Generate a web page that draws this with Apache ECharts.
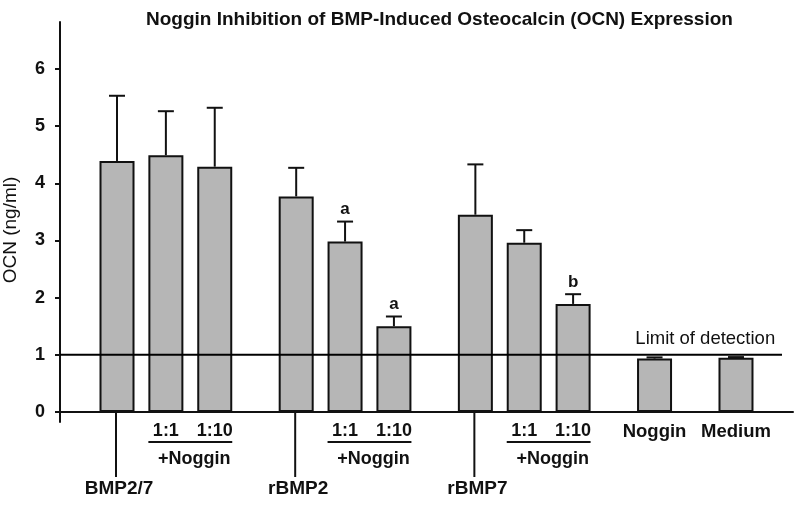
<!DOCTYPE html>
<html>
<head>
<meta charset="utf-8">
<script src="https://cdn.jsdelivr.net/npm/echarts@6/dist/echarts.min.js"></script>
<style>
html,body{margin:0;padding:0;background:#fff;}
#chart{width:800px;height:507px;}
</style>
</head>
<body>
<div id="chart"></div>
<script>
// ---- data ----
const titleText = 'Noggin Inhibition of BMP-Induced Osteocalcin (OCN) Expression';
const yAxisName = 'OCN (ng/ml)';
const categories = ['BMP2/7', 'BMP2/7 +Noggin 1:1', 'BMP2/7 +Noggin 1:10',
  'rBMP2', 'rBMP2 +Noggin 1:1', 'rBMP2 +Noggin 1:10',
  'rBMP7', 'rBMP7 +Noggin 1:1', 'rBMP7 +Noggin 1:10',
  'Noggin', 'Medium'];
const ocnMean = [4.39, 4.49, 4.29, 3.77, 2.98, 1.50, 3.45, 2.96, 1.89, 0.935, 0.95];
const ocnError = [1.14, 0.77, 1.03, 0.50, 0.35, 0.17, 0.88, 0.22, 0.17, 0.02, 0.01];
const sigLetters = ['', '', '', '', 'a', 'a', '', '', 'b', '', ''];
const yTickValues = [0, 1, 2, 3, 4, 5, 6];
const groupLabels = ['BMP2/7', 'rBMP2', 'rBMP7'];
const ratioLabels = ['1:1', '1:10'];
const nogginLabel = '+Noggin';
const controlLabels = ['Noggin', 'Medium'];
const detectionLimit = 1;
const detectionLabel = 'Limit of detection';

// ---- layout ----
const SLOT_COUNT = 45;
const barSlots = [3, 6, 9, 14, 17, 20, 25, 28, 31, 36, 41];
const BAR_W = 35;
const FONT = '"Liberation Sans", Arial, sans-serif';

const slotNames = [];
for (let i = 0; i < SLOT_COUNT; i++) slotNames.push('s' + i);
const barData = slotNames.map(() => '-');
barSlots.forEach((s, i) => { barData[s] = { value: ocnMean[i], name: categories[i] }; });
const errData = barSlots.map((s, i) => [s, ocnMean[i], ocnError[i], i]);

const chart = echarts.init(document.getElementById('chart'), null, { renderer: 'canvas' });

const option = {
  animation: false,
  backgroundColor: '#fff',
  title: {
    text: titleText,
    left: 141, top: 5,
    textStyle: { fontFamily: FONT, fontSize: 19, fontWeight: 'bold', color: '#111' }
  },
  grid: { left: 60, right: 7, top: 22, bottom: 85, containLabel: false, outerBoundsMode: 'none' },
  xAxis: {
    type: 'category',
    data: slotNames,
    boundaryGap: true,
    axisLine: { show: true, onZero: true, lineStyle: { color: '#111', width: 2 } },
    axisTick: { show: false },
    axisLabel: { show: false },
    splitLine: { show: false }
  },
  yAxis: {
    type: 'value',
    min: -0.175, max: 6.82,
    name: yAxisName,
    nameLocation: 'middle',
    nameGap: 40,
    nameTextStyle: { fontFamily: FONT, fontSize: 19, color: '#111', padding: [0, 16, 0, 0] },
    axisLine: { show: true, lineStyle: { color: '#111', width: 2 } },
    axisTick: { show: true, length: 5, lineStyle: { color: '#111', width: 2 }, customValues: yTickValues },
    axisLabel: { show: true, customValues: yTickValues, margin: 15,
      fontFamily: FONT, fontSize: 18, fontWeight: 'bold', color: '#111' },
    splitLine: { show: false }
  },
  series: [
    {
      type: 'bar',
      data: barData,
      barWidth: BAR_W,
      itemStyle: { color: '#b6b6b6', borderColor: '#111', borderWidth: 2 },
      z: 2
    },
    {
      type: 'custom',
      data: errData,
      z: 3,
      renderItem: function (params, api) {
        const slot = api.value(0), m = api.value(1), e = api.value(2), idx = api.value(3);
        const p0 = api.coord([slot, m]);
        const p1 = api.coord([slot, m + e]);
        const children = [
          { type: 'line', shape: { x1: p0[0], y1: p0[1], x2: p1[0], y2: p1[1] },
            style: { stroke: '#111', lineWidth: 2 } },
          { type: 'line', shape: { x1: p1[0] - 8, y1: p1[1], x2: p1[0] + 8, y2: p1[1] },
            style: { stroke: '#111', lineWidth: 2 } }
        ];
        const letter = sigLetters[idx];
        if (letter) {
          children.push({ type: 'text', x: p1[0], y: p1[1] - 12,
            style: { text: letter, fill: '#111', font: 'bold 17px ' + FONT, align: 'center', verticalAlign: 'middle' } });
        }
        return { type: 'group', children: children };
      }
    }
  ]
};
chart.setOption(option);

// annotations under the axis and the detection-limit line
function px(i) { return chart.convertToPixel({ gridIndex: 0 }, [barSlots[i], 0]); }
const zeroY = px(0)[1];
const limY = chart.convertToPixel({ gridIndex: 0 }, [0, detectionLimit])[1];
const slotW = (px(1)[0] - px(0)[0]) / (barSlots[1] - barSlots[0]);
const axisX = px(0)[0] - slotW * (barSlots[0] + 0.5);
const g = [];
const boldFont = 'bold 18px ' + FONT;
groupLabels.forEach((lab, k) => {
  const b0 = px(k * 3), b1 = px(k * 3 + 1), b2 = px(k * 3 + 2);
  g.push({ type: 'line', shape: { x1: b0[0] - 1, y1: zeroY, x2: b0[0] - 1, y2: zeroY + 65 }, style: { stroke: '#111', lineWidth: 2 } });
  g.push({ type: 'text', x: b0[0] + 2, y: zeroY + 77, style: { text: lab, font: 'bold 19px ' + FONT, fill: '#111', align: 'center', verticalAlign: 'middle' } });
  ratioLabels.forEach((r, j) => {
    const b = j === 0 ? b1 : b2;
    g.push({ type: 'text', x: b[0], y: zeroY + 19, style: { text: r, font: boldFont, fill: '#111', align: 'center', verticalAlign: 'middle' } });
  });
  g.push({ type: 'line', shape: { x1: b1[0] - BAR_W / 2, y1: zeroY + 30, x2: b2[0] + BAR_W / 2, y2: zeroY + 30 }, style: { stroke: '#111', lineWidth: 2 } });
  g.push({ type: 'text', x: (b1[0] + b2[0]) / 2 + 4, y: zeroY + 47, style: { text: nogginLabel, font: boldFont, fill: '#111', align: 'center', verticalAlign: 'middle' } });
});
controlLabels.forEach((lab, j) => {
  const b = px(9 + j);
  g.push({ type: 'text', x: b[0], y: zeroY + 20, style: { text: lab, font: 'bold 18.5px ' + FONT, fill: '#111', align: 'center', verticalAlign: 'middle' } });
});
const n1 = px(9), n2 = px(10);
g.push({ type: 'line', shape: { x1: axisX, y1: limY, x2: n2[0] + 46, y2: limY }, style: { stroke: '#000', lineWidth: 2 }, z: 12 });
g.push({ type: 'text', x: (n1[0] + n2[0]) / 2 + 10, y: limY - 16, style: { text: detectionLabel, font: '18.5px ' + FONT, fill: '#111', align: 'center', verticalAlign: 'middle' } });
chart.setOption({ graphic: g.map(e => Object.assign({ z: 10, silent: true }, e)) });
</script>
</body>
</html>
